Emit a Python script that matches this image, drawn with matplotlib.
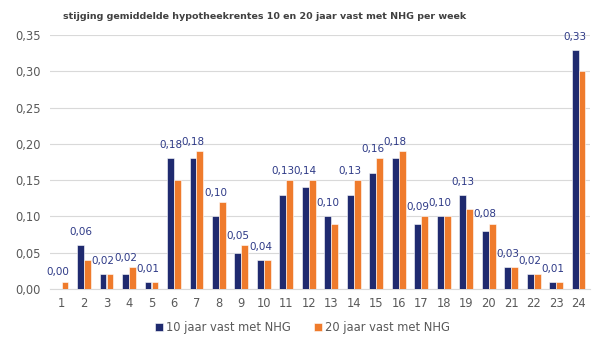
import numpy as np
import matplotlib.pyplot as plt

# data
weken = list(range(1, 25))
tien_jaar = [0.00, 0.06, 0.02, 0.02, 0.01, 0.18, 0.18, 0.10, 0.05, 0.04, 0.13, 0.14,
             0.10, 0.13, 0.16, 0.18, 0.09, 0.10, 0.13, 0.08, 0.03, 0.02, 0.01, 0.33]
twintig_jaar = [0.01, 0.04, 0.02, 0.03, 0.01, 0.15, 0.19, 0.12, 0.06, 0.04, 0.15, 0.15,
                0.09, 0.15, 0.18, 0.19, 0.10, 0.10, 0.11, 0.09, 0.03, 0.02, 0.01, 0.30]
yticks = [0.00, 0.05, 0.10, 0.15, 0.20, 0.25, 0.30, 0.35]

navy = '#1F2A6F'
oranje = '#EF7B2C'
grijs = '#595959'

plt.rcParams['font.family'] = ['DejaVu Sans']

fig = plt.figure(figsize=(6.05, 3.44), dpi=100)
ax = fig.add_axes([0.083, 0.16, 0.892, 0.738])

x = np.array(weken)
b = 0.3
ax.bar(x - 0.155, tien_jaar, b, color=navy, edgecolor='white', linewidth=0.4,
       label='10 jaar vast met NHG', zorder=3)
ax.bar(x + 0.155, twintig_jaar, b, color=oranje, edgecolor='white', linewidth=0.4,
       label='20 jaar vast met NHG', zorder=3)

# labels boven de blauwe balk (en niet over de oranje balk)
for xi, a, o in zip(x, tien_jaar, twintig_jaar):
    tekst = ('%.2f' % a).replace('.', ',')
    ax.text(xi - 0.15, max(a + 0.011, o + 0.006), tekst, ha='center', va='bottom',
            fontsize=7.5, color='#2E3A87', zorder=4)

ax.set_xlim(0.5, 24.5)
ax.set_ylim(0, 0.35)
ax.set_yticks(yticks)
ax.set_yticklabels([('%.2f' % v).replace('.', ',') for v in yticks])
ax.set_xticks(x)
ax.set_xticklabels([str(w) for w in weken])
ax.tick_params(length=0, labelsize=8.3, colors=grijs, pad=6)
ax.tick_params(axis='y', pad=25)
for lab in ax.get_yticklabels():
    lab.set_horizontalalignment('left')
ax.grid(axis='y', color='#D9D9D9', linewidth=0.8, zorder=0)
for s in ['top', 'right', 'left']:
    ax.spines[s].set_visible(False)
ax.spines['bottom'].set_color('#D9D9D9')

fig.text(0.438, 0.953, 'stijging gemiddelde hypotheekrentes 10 en 20 jaar vast met NHG per week',
         ha='center', va='center', fontsize=6.8, fontweight='bold', color='#404040')

fig.legend(loc='lower center', bbox_to_anchor=(0.5, 0.0), ncol=2, frameon=False,
           fontsize=8.3, handlelength=0.7, handleheight=0.7, handletextpad=0.3,
           columnspacing=2.0, labelcolor=grijs)

fig.savefig('out.png', dpi=100)
